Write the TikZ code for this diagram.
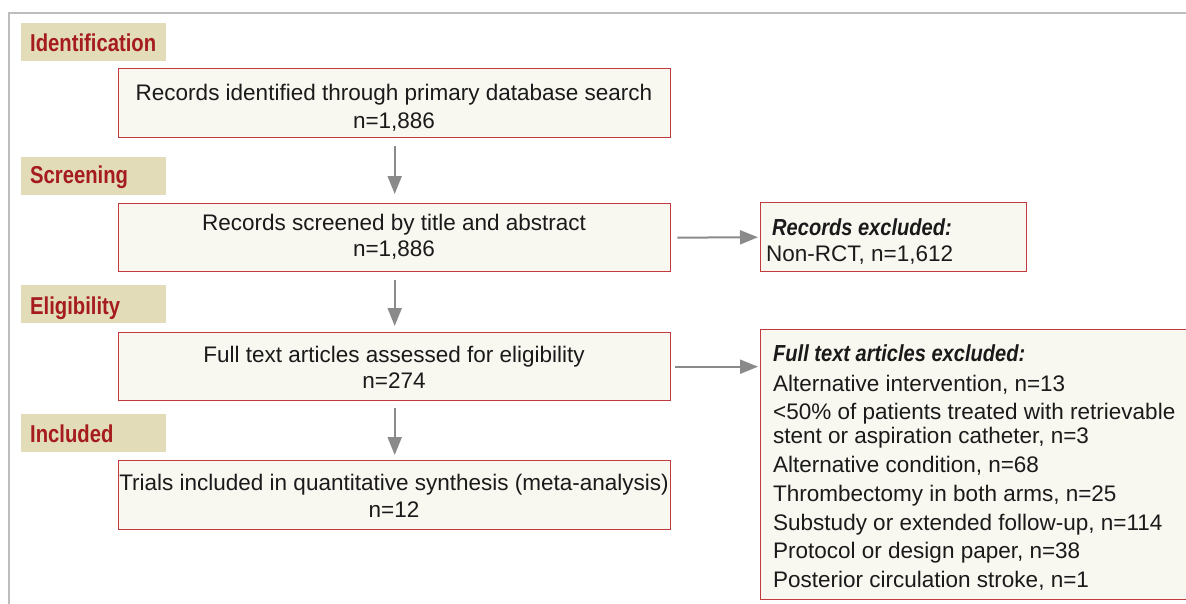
\documentclass[tikz,border=0pt]{standalone}
\usepackage{fontspec}
\usepackage{graphicx}
\setmainfont{Liberation Sans}
\usetikzlibrary{arrows.meta}
\definecolor{framegray}{HTML}{BDBDBD}
\definecolor{labelbg}{HTML}{E2DCB8}
\definecolor{labelred}{HTML}{A51B1E}
\definecolor{boxfill}{HTML}{F8F7F0}
\definecolor{boxline}{HTML}{C23A3D}
\definecolor{arrowgray}{HTML}{8A8A8A}
\definecolor{txt}{HTML}{1A1A1A}
\newcommand{\stagetxt}[1]{\scalebox{0.83}[1]{\fontsize{24.4}{28}\selectfont\bfseries #1}}
\newcommand{\headtxt}[1]{\scalebox{0.865}[1]{\fontsize{23.2}{27}\selectfont\bfseries\itshape #1}}
\begin{document}
\begin{tikzpicture}[x=1pt,y=-1pt,
  stagebox/.style={fill=labelbg, minimum width=145pt, minimum height=38pt, inner sep=0pt, anchor=north west},
  stagelabel/.style={text=labelred, inner sep=0pt, anchor=base west},
  flowbox/.style={draw=boxline, fill=boxfill, line width=1.4pt, minimum width=552pt, inner sep=0pt, anchor=north west},
  flowtext/.style={text=txt, inner sep=0pt, anchor=base, font=\fontsize{22.5}{27}\selectfont},
  linetext/.style={text=txt, inner sep=0pt, anchor=base west, font=\fontsize{22.5}{27}\selectfont},
  flowarrow/.style={draw=arrowgray, line width=2pt, -{Triangle[length=18pt,width=14pt]}}
]
\useasboundingbox (0,0) rectangle (1186,603);
% outer frame
\draw[framegray, line width=2pt] (1187,13) -- (9,13) -- (9,604);

% stage labels
\node[stagebox] (sid) at (21,23) {};
\node[stagelabel] (sidt) at (30,51) {\stagetxt{Identification}};
\node[stagebox] (ssc) at (21,157) {};
\node[stagelabel] (ssct) at (30,183) {\stagetxt{Screening}};
\node[stagebox] (sel) at (21,285) {};
\node[stagelabel] (selt) at (30,314) {\stagetxt{Eligibility}};
\node[stagebox] (sin) at (21,414) {};
\node[stagelabel] (sint) at (30,442) {\stagetxt{Included}};

% main flow boxes
\node[flowbox, minimum height=69pt] (b1) at (118,68) {};
\node[flowtext] (b1a) at (394,100) {Records identified through primary database search};
\node[flowtext] (b1b) at (394,128) {n=1,886};

\node[flowbox, minimum height=68pt] (b2) at (118,203) {};
\node[flowtext] (b2a) at (394,230) {Records screened by title and abstract};
\node[flowtext] (b2b) at (394,256) {n=1,886};

\node[flowbox, minimum height=68pt] (b3) at (118,332) {};
\node[flowtext] (b3a) at (394,362) {Full text articles assessed for eligibility};
\node[flowtext] (b3b) at (394,388) {n=274};

\node[flowbox, minimum height=69pt] (b4) at (118,460) {};
\node[flowtext] (b4a) at (394,490) {Trials included in quantitative synthesis (meta-analysis)};
\node[flowtext] (b4b) at (394,517) {n=12};

% exclusion boxes
\node[draw=boxline, fill=boxfill, line width=1.4pt, minimum width=266pt, minimum height=69pt, inner sep=0pt, anchor=north west] (e1) at (760,202) {};
\node[linetext] (e1a) at (772,235) {\headtxt{Records excluded:}};
\node[linetext] (e1b) at (766,261) {Non-RCT, n=1,612};

\node[draw=boxline, fill=boxfill, line width=1.4pt, minimum width=440pt, minimum height=270pt, inner sep=0pt, anchor=north west] (e2) at (760,329) {};
\node[linetext] (e2a) at (773,361) {\headtxt{Full text articles excluded:}};
\node[linetext] (e2b) at (773,391) {Alternative intervention, n=13};
\node[linetext] (e2c) at (773,419) {<50\% of patients treated with retrievable};
\node[linetext] (e2d) at (773,443) {stent or aspiration catheter, n=3};
\node[linetext] (e2e) at (773,472.5) {Alternative condition, n=68};
\node[linetext] (e2f) at (773,501) {Thrombectomy in both arms, n=25};
\node[linetext] (e2g) at (773,530) {Substudy or extended follow-up, n=114};
\node[linetext] (e2h) at (773,558) {Protocol or design paper, n=38};
\node[linetext] (e2i) at (773,587.5) {Posterior circulation stroke, n=1};

% connectors
\draw[flowarrow, shorten <=8pt, shorten >=9pt] (b1.south) -- (b2.north);
\draw[flowarrow, shorten <=8pt, shorten >=6pt] (b2.south) -- (b3.north);
\draw[flowarrow, shorten <=7pt, shorten >=5pt] (b3.south) -- (b4.north);
\draw[flowarrow, shorten <=6pt, shorten >=2pt] (b2.east) -- (e1.west);
\draw[flowarrow, shorten <=4pt, shorten >=2pt] (b3.east) -- (b3.east -| e2.west);
\end{tikzpicture}
\end{document}
